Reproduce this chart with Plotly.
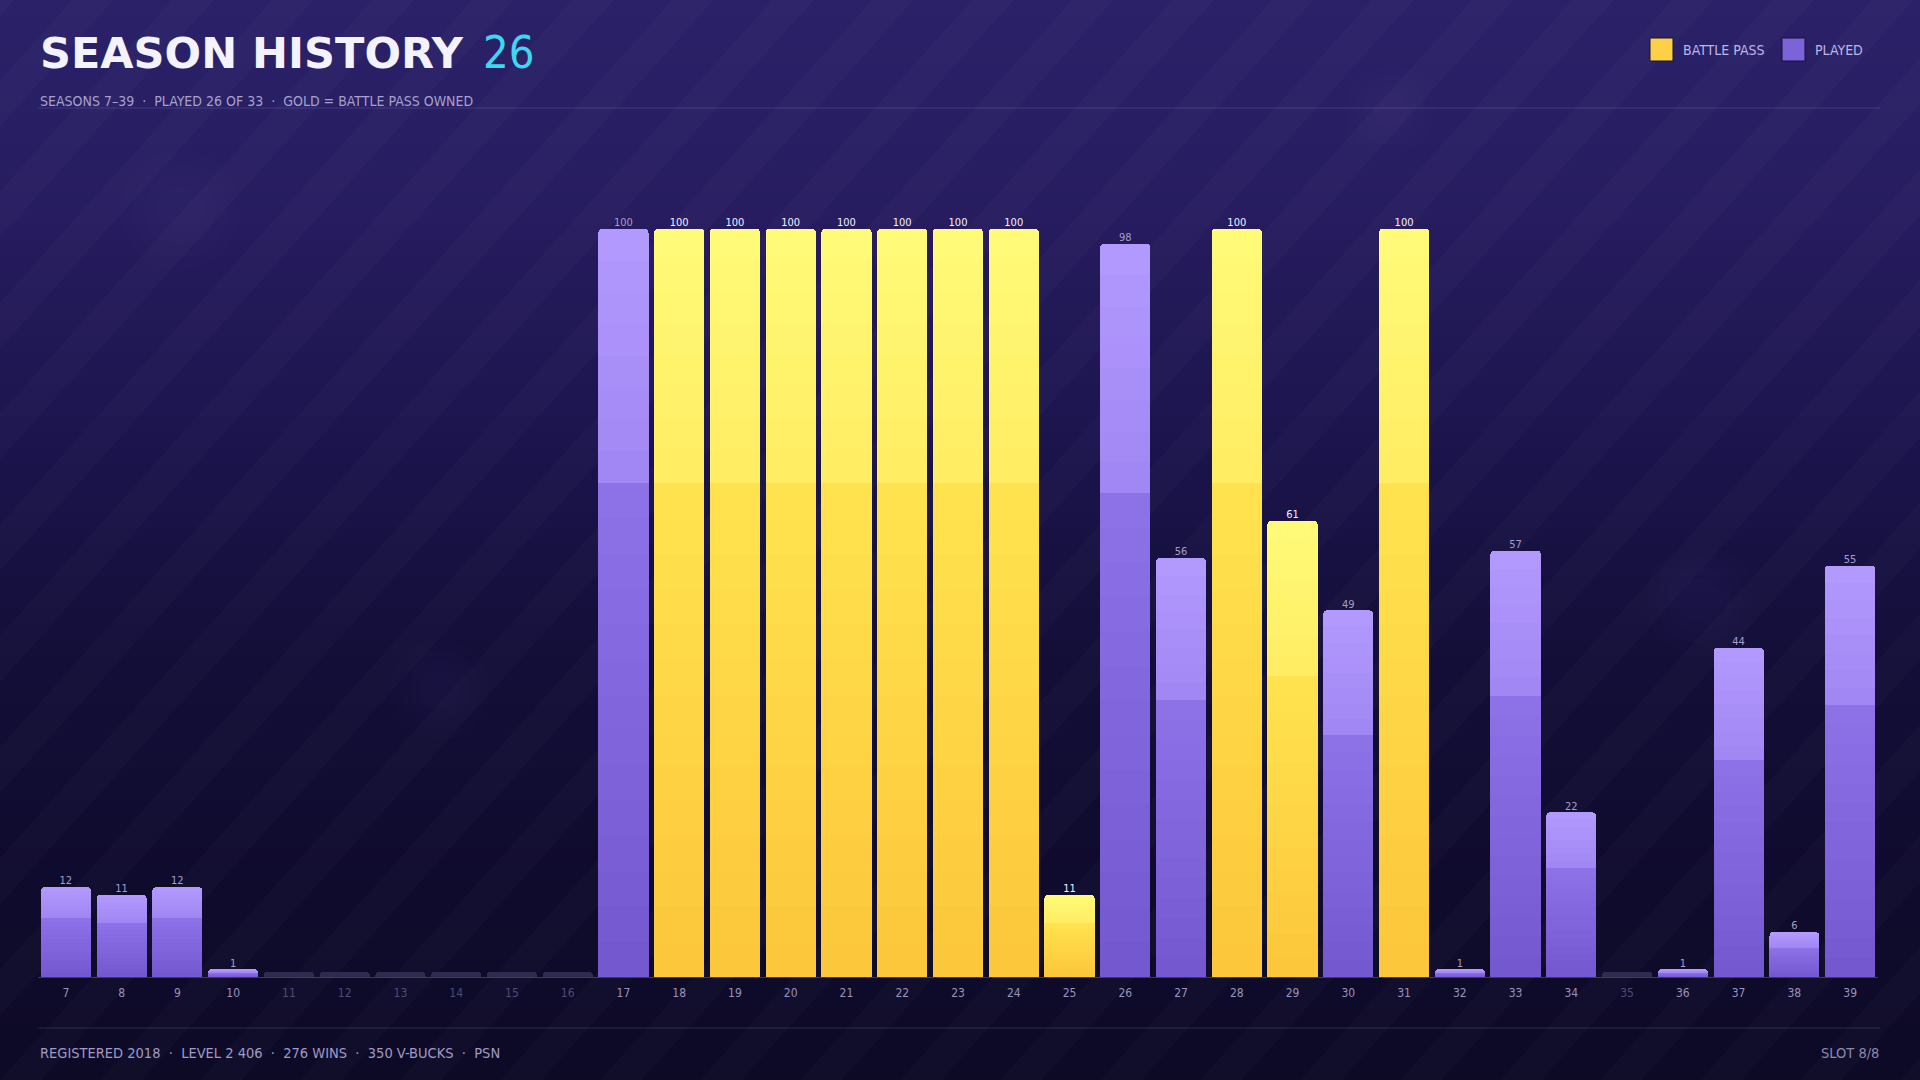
import plotly.graph_objects as go

W, H = 1920, 1080

# ---- data ----------------------------------------------------------------
SEASONS = [7, 8, 9, 10, 11, 12, 13, 14, 15, 16, 17, 18, 19, 20, 21, 22, 23,
           24, 25, 26, 27, 28, 29, 30, 31, 32, 33, 34, 35, 36, 37, 38, 39]
LEVELS = [12, 11, 12, 1, 0, 0, 0, 0, 0, 0, 100, 100, 100, 100, 100, 100, 100,
          100, 11, 98, 56, 100, 61, 49, 100, 1, 57, 22, 0, 1, 44, 6, 55]
BATTLE_PASS = [18, 19, 20, 21, 22, 23, 24, 25, 28, 29, 31]

TITLE = "SEASON HISTORY"
TITLE_COUNT = "26"
SUBTITLE = "SEASONS 7–39  ·  PLAYED 26 OF 33  ·  GOLD = BATTLE PASS OWNED"
FOOTER_LEFT = "REGISTERED 2018  ·  LEVEL 2 406  ·  276 WINS  ·  350 V-BUCKS  ·  PSN"
FOOTER_RIGHT = "SLOT 8/8"
LEGEND = [("BATTLE PASS", "#fdd045", 1650), ("PLAYED", "#7d63da", 1782)]

NARROW = "DejaVu Sans Condensed"
STUB = 0.7  # height of the grey placeholder for unplayed seasons


def nfont(size, color):
    return dict(family=NARROW, size=size, color=color)


# ---- small helpers ---------------------------------------------------------

def px(x):
    return x / W


def py(y):
    return 1 - y / H


def _rgb(c):
    return [int(c[i:i + 2], 16) for i in (1, 3, 5)]


def mix(c1, c2, t):
    a, b = _rgb(c1), _rgb(c2)
    return "#%02x%02x%02x" % tuple(round(x + (y - x) * t) for x, y in zip(a, b))


def ramp(stops, t):
    for (t0, c0), (t1, c1) in zip(stops, stops[1:]):
        if t <= t1:
            return mix(c0, c1, (t - t0) / (t1 - t0))
    return stops[-1][1]


# ---- background ------------------------------------------------------------
BG_STOPS = [(0.0, "#2b2169"), (0.2, "#261c5f"), (0.42, "#1b144c"),
            (0.62, "#130e37"), (0.82, "#0f0b2d"), (1.0, "#0d0a26")]

shapes = []
band = 16
for y0 in range(0, H, band):
    shapes.append(dict(type="rect", xref="paper", yref="paper", layer="below",
                       x0=0, x1=1, y0=py(y0 + band + 1), y1=py(y0),
                       fillcolor=ramp(BG_STOPS, (y0 + band / 2) / H), line_width=0))

# a few faint out-of-focus blobs, built from stacked soft discs
for cx, cy, r in [(180, 210, 60), (440, 690, 50), (1700, 600, 55), (1390, 110, 45)]:
    for f in (1.0, 0.8, 0.6, 0.4):
        rr = r * f
        shapes.append(dict(type="circle", xref="paper", yref="paper", layer="below",
                           x0=px(cx - rr), x1=px(cx + rr), y0=py(cy + rr), y1=py(cy - rr),
                           fillcolor="rgba(150,130,255,0.01)", line_width=0))

k = 0.9
for x0 in range(-1100, W + 100, 100):
    pts = [(x0, H), (x0 + 42, H), (x0 + 42 + k * H, 0), (x0 + k * H, 0)]
    path = "M " + " L ".join(f"{px(a):.5f},{py(b):.5f}" for a, b in pts) + " Z"
    shapes.append(dict(type="path", xref="paper", yref="paper", layer="below",
                       path=path, fillcolor="rgba(255,255,255,0.02)", line_width=0))

for y in (108, 1028):
    shapes.append(dict(type="line", xref="paper", yref="paper", layer="below",
                       x0=px(38), x1=px(1880), y0=py(y), y1=py(y),
                       line=dict(color="rgba(160,145,230,0.22)", width=1)))

for name, col, x0 in LEGEND:
    shapes.append(dict(type="rect", xref="paper", yref="paper",
                       x0=px(x0), x1=px(x0 + 23), y0=py(61), y1=py(38),
                       fillcolor=col, line=dict(color="#1a0f38", width=1)))

# ---- bars: stacked bands fake the vertical gradient --------------------------
is_bp = [s in BATTLE_PASS for s in SEASONS]
cats = [str(s) for s in SEASONS]

PURPLE = [(0.0, "#7357cf"), (0.66, "#8e72e8"), (0.661, "#a086f2"), (1.0, "#b39aff")]
GOLD = [(0.0, "#fdc63a"), (0.66, "#ffe34f"), (0.661, "#ffec62"), (1.0, "#fffb7a")]

fig = go.Figure()
fig.add_trace(go.Bar(x=cats, y=[STUB if v == 0 else 0 for v in LEVELS],
                     marker=dict(color="#2f2a4f", line_width=0), hoverinfo="skip"))

edges = [i * 0.66 / 14 for i in range(15)] + [0.66 + i * 0.34 / 8 for i in range(1, 9)]
for f0, f1 in zip(edges, edges[1:]):
    mid = (f0 + f1) / 2
    cols = [ramp(GOLD if bp else PURPLE, mid) for bp in is_bp]
    fig.add_trace(go.Bar(x=cats, y=[v * (f1 - f0) for v in LEVELS],
                         marker=dict(color=cols, line_width=0), hoverinfo="skip"))

# value labels above the bars
shown = [i for i, v in enumerate(LEVELS) if v > 0]
fig.add_trace(go.Scatter(
    x=[cats[i] for i in shown], y=[LEVELS[i] for i in shown],
    text=[str(LEVELS[i]) for i in shown], mode="text", textposition="top center",
    textfont=dict(family=NARROW, size=11,
                  color=["#f3f0ff" if is_bp[i] else "#a49ec8" for i in shown]),
    hoverinfo="skip", cliponaxis=False))

ticktext = [f"<span style='color:{'#9893bd' if v > 0 else '#4f4a78'}'>{c}</span>"
            for c, v in zip(cats, LEVELS)]

# ---- text ------------------------------------------------------------------
ann = [
    dict(x=px(38), y=py(53), text=f"<b>{TITLE}</b>", xanchor="left", yanchor="middle",
         font=dict(family="DejaVu Sans", size=43, color="#f4f2ff", weight=900)),
    dict(x=px(481), y=py(53), text=TITLE_COUNT, xanchor="left", yanchor="middle",
         font=nfont(45, "#3fd7f0")),
    dict(x=px(38), y=py(101), text=SUBTITLE, xanchor="left", yanchor="middle",
         font=nfont(14, "#a7a1cc")),
    dict(x=px(38), y=py(1053), text=FOOTER_LEFT, xanchor="left", yanchor="middle",
         font=nfont(14.5, "#a09ac6")),
    dict(x=px(1881), y=py(1053), text=FOOTER_RIGHT, xanchor="right", yanchor="middle",
         font=nfont(14.5, "#8d88b0")),
]
for name, col, x0 in LEGEND:
    ann.append(dict(x=px(x0 + 31), y=py(50), text=name, xanchor="left", yanchor="middle",
                    font=nfont(14, "#bdb5e6")))
for a in ann:
    a.update(xref="paper", yref="paper", showarrow=False)

fig.update_layout(
    width=W, height=H, margin=dict(l=0, r=0, t=0, b=0),
    paper_bgcolor="#1a1448", plot_bgcolor="rgba(0,0,0,0)",
    barmode="stack", bargap=0.1, barcornerradius=4, showlegend=False,
    shapes=shapes, annotations=ann,
    xaxis=dict(domain=[px(38), px(1878)], type="category", tickvals=cats,
               ticktext=ticktext, tickfont=dict(family=NARROW, size=12),
               range=[-0.5, len(cats) - 0.5],
               showgrid=False, zeroline=False, showline=True,
               linecolor="rgba(150,140,210,0.35)", linewidth=1, ticks="",
               ticklabelstandoff=5, fixedrange=True),
    yaxis=dict(domain=[1 - 977 / H, 1 - 154 / H], range=[0, 110], visible=False,
               fixedrange=True),
)

# drop the browser's default body margin so the figure fills the window
fig.write_html("out.html", config={"displayModeBar": False},
               post_script="document.body.style.margin='0';")
